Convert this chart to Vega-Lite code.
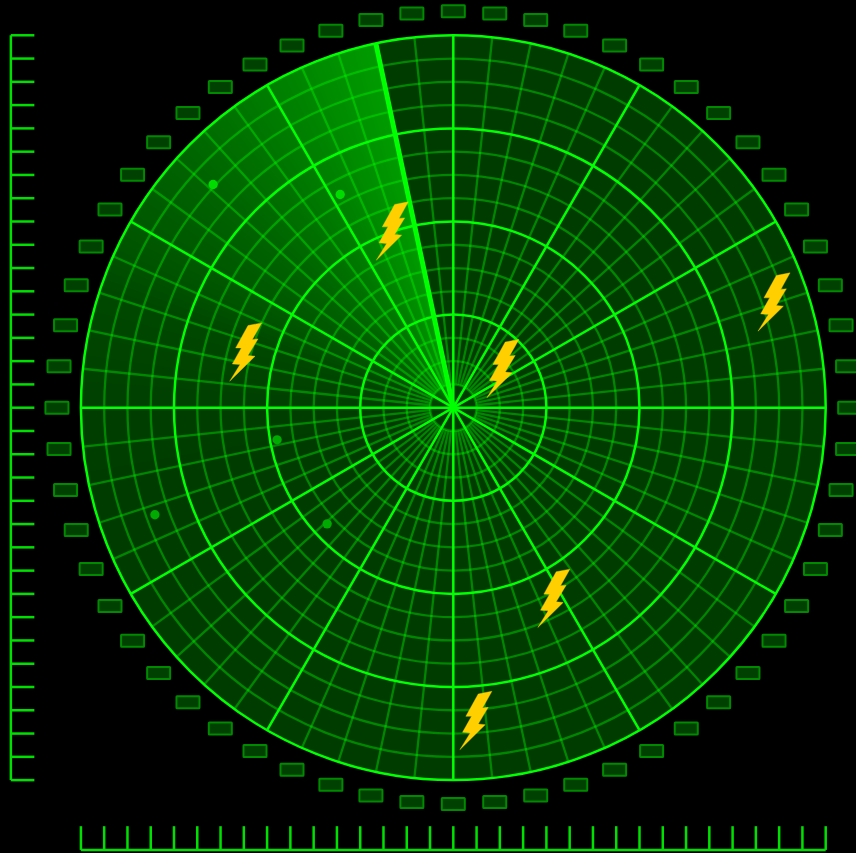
{"$schema":"https://vega.github.io/schema/vega-lite/v6.json","width":856,"height":853,"padding":0,"autosize":{"type":"fit","contains":"padding"},"background":"#000000","config":{"view":{"stroke":null}},
"layer":[
{"data":{"values":[{"r":160}]},"mark":{"type":"arc","fill":"#003c00"},"encoding":{
"x":{"datum":0,"type":"quantitative","scale":{"domain":[-194.76,173.02],"nice":false,"zero":false},"axis":null},
"y":{"datum":0,"type":"quantitative","scale":{"domain":[-191.32,175.16],"nice":false,"zero":false},"axis":null},
"theta":{"datum":0,"type":"quantitative","stack":null,"scale":{"type":"linear","domain":[0,360],"range":[0,6.283185307]}},
"theta2":{"datum":360},
"radius":{"field":"r","type":"quantitative","scale":{"type":"linear","domain":[0,160],"range":[0,372.4]}}}},
{"data":{"values":[{"a":260},{"a":270},{"a":274},{"a":278},{"a":281},{"a":285},{"a":289},{"a":290.2},{"a":291.5},{"a":292.7},{"a":293.9},{"a":295.2},{"a":296.4},{"a":297.6},{"a":298.8},{"a":300.1},{"a":301.3},{"a":302.5},{"a":303.8},{"a":305},{"a":306},{"a":307},{"a":308},{"a":309},{"a":310},{"a":311},{"a":312},{"a":313},{"a":313.7},{"a":314.4},{"a":315},{"a":315.7},{"a":316.4},{"a":317.1},{"a":317.8},{"a":318.4},{"a":319.1},{"a":319.8},{"a":320.5},{"a":321.2},{"a":321.8},{"a":322.5},{"a":323.2},{"a":323.9},{"a":324.6},{"a":325.2},{"a":325.9},{"a":326.6},{"a":327.3},{"a":328},{"a":328.6},{"a":329.3},{"a":330},{"a":330.6},{"a":331.2},{"a":331.8},{"a":332.4},{"a":333},{"a":333.6},{"a":334.2},{"a":334.8},{"a":335.4},{"a":336},{"a":336.6},{"a":337.2},{"a":337.8},{"a":338.4},{"a":339},{"a":339.6},{"a":340.2},{"a":340.8},{"a":341.4},{"a":342},{"a":342.6},{"a":343.2},{"a":343.8},{"a":344.4},{"a":345},{"a":345.6},{"a":346.2},{"a":346.8},{"a":347.4}]},
"mark":{"type":"arc","fill":"#00ff00","fillOpacity":0.01},"encoding":{
"x":{"datum":0,"type":"quantitative"},"y":{"datum":0,"type":"quantitative"},
"theta":{"field":"a","type":"quantitative","stack":null},"theta2":{"datum":348},
"radius":{"datum":160,"type":"quantitative"}}},
{"data":{"values":[{"r":10},{"r":20},{"r":30},{"r":50},{"r":60},{"r":70},{"r":90},{"r":100},{"r":110},{"r":130},{"r":140},{"r":150}]},
"mark":{"type":"arc","fill":null,"stroke":"#00ff00","strokeOpacity":0.38,"strokeWidth":2.3},"encoding":{
"x":{"datum":0,"type":"quantitative"},"y":{"datum":0,"type":"quantitative"},
"theta":{"datum":0,"type":"quantitative","stack":null},"theta2":{"datum":360},
"radius":{"field":"r","type":"quantitative"},"radius2":{"field":"r"}}},
{"data":{"values":[{"a":6},{"a":12},{"a":18},{"a":24},{"a":36},{"a":42},{"a":48},{"a":54},{"a":66},{"a":72},{"a":78},{"a":84},{"a":96},{"a":102},{"a":108},{"a":114},{"a":126},{"a":132},{"a":138},{"a":144},{"a":156},{"a":162},{"a":168},{"a":174},{"a":186},{"a":192},{"a":198},{"a":204},{"a":216},{"a":222},{"a":228},{"a":234},{"a":246},{"a":252},{"a":258},{"a":264},{"a":276},{"a":282},{"a":288},{"a":294},{"a":306},{"a":312},{"a":318},{"a":324},{"a":336},{"a":342},{"a":348},{"a":354}]},
"mark":{"type":"arc","fill":null,"stroke":"#00ff00","strokeOpacity":0.38,"strokeWidth":2.3},"encoding":{
"x":{"datum":0,"type":"quantitative"},"y":{"datum":0,"type":"quantitative"},
"theta":{"field":"a","type":"quantitative","stack":null},"theta2":{"field":"a"},
"radius":{"datum":160,"type":"quantitative"},"radius2":{"datum":10}}},
{"data":{"values":[{"r":40},{"r":80},{"r":120},{"r":160}]},
"mark":{"type":"arc","fill":null,"stroke":"#00ff00","strokeWidth":2.5},"encoding":{
"x":{"datum":0,"type":"quantitative"},"y":{"datum":0,"type":"quantitative"},
"theta":{"datum":0,"type":"quantitative","stack":null},"theta2":{"datum":360},
"radius":{"field":"r","type":"quantitative"},"radius2":{"field":"r"}}},
{"data":{"values":[{"a":0},{"a":30},{"a":60},{"a":90},{"a":120},{"a":150},{"a":180},{"a":210},{"a":240},{"a":270},{"a":300},{"a":330}]},
"mark":{"type":"arc","fill":null,"stroke":"#00ff00","strokeWidth":2.5},"encoding":{
"x":{"datum":0,"type":"quantitative"},"y":{"datum":0,"type":"quantitative"},
"theta":{"field":"a","type":"quantitative","stack":null},"theta2":{"field":"a"},
"radius":{"datum":160,"type":"quantitative"},"radius2":{"datum":0}}},
{"data":{"values":[{"a":348}]},
"mark":{"type":"arc","fill":null,"stroke":"#00ff00","strokeWidth":5},"encoding":{
"x":{"datum":0,"type":"quantitative"},"y":{"datum":0,"type":"quantitative"},
"theta":{"field":"a","type":"quantitative","stack":null},"theta2":{"field":"a"},
"radius":{"datum":160,"type":"quantitative"},"radius2":{"datum":0}}},
{"data":{"values":[{"x":0,"y":170.3},{"x":17.8,"y":169.4},{"x":35.4,"y":166.6},{"x":52.6,"y":162},{"x":69.3,"y":155.6},{"x":85.2,"y":147.5},{"x":100.1,"y":137.8},{"x":114,"y":126.6},{"x":126.6,"y":114},{"x":137.8,"y":100.1},{"x":147.5,"y":85.2},{"x":155.6,"y":69.3},{"x":162,"y":52.6},{"x":166.6,"y":35.4},{"x":169.4,"y":17.8},{"x":170.3,"y":0},{"x":169.4,"y":-17.8},{"x":166.6,"y":-35.4},{"x":162,"y":-52.6},{"x":155.6,"y":-69.3},{"x":147.5,"y":-85.2},{"x":137.8,"y":-100.1},{"x":126.6,"y":-114},{"x":114,"y":-126.6},{"x":100.1,"y":-137.8},{"x":85.2,"y":-147.5},{"x":69.3,"y":-155.6},{"x":52.6,"y":-162},{"x":35.4,"y":-166.6},{"x":17.8,"y":-169.4},{"x":0,"y":-170.3},{"x":-17.8,"y":-169.4},{"x":-35.4,"y":-166.6},{"x":-52.6,"y":-162},{"x":-69.3,"y":-155.6},{"x":-85.2,"y":-147.5},{"x":-100.1,"y":-137.8},{"x":-114,"y":-126.6},{"x":-126.6,"y":-114},{"x":-137.8,"y":-100.1},{"x":-147.5,"y":-85.2},{"x":-155.6,"y":-69.3},{"x":-162,"y":-52.6},{"x":-166.6,"y":-35.4},{"x":-169.4,"y":-17.8},{"x":-170.3,"y":0},{"x":-169.4,"y":17.8},{"x":-166.6,"y":35.4},{"x":-162,"y":52.6},{"x":-155.6,"y":69.3},{"x":-147.5,"y":85.2},{"x":-137.8,"y":100.1},{"x":-126.6,"y":114},{"x":-114,"y":126.6},{"x":-100.1,"y":137.8},{"x":-85.2,"y":147.5},{"x":-69.3,"y":155.6},{"x":-52.6,"y":162},{"x":-35.4,"y":166.6},{"x":-17.8,"y":169.4}]},
"mark":{"type":"rect","clip":true,"width":23,"height":12,"cornerRadius":0.5,"fill":"#004000","stroke":"#008a00","strokeWidth":2},"encoding":{
"x":{"field":"x","type":"quantitative"},"y":{"field":"y","type":"quantitative"}}},
{"data":{"values":[{"x":-103.2,"y":95.9,"fade":"near"},{"x":-48.6,"y":91.6,"fade":"near"},{"x":-75.7,"y":-13.8,"fade":"far"},{"x":-128.2,"y":-46,"fade":"far"},{"x":-54.2,"y":-49.9,"fade":"far"}]},
"mark":{"type":"point","filled":true,"shape":"circle","size":87,"opacity":1},"encoding":{
"x":{"field":"x","type":"quantitative"},"y":{"field":"y","type":"quantitative"},
"color":{"field":"fade","type":"nominal","legend":null,"scale":{"domain":["near","far"],"range":["#00dc00","#00aa00"]}}}},
{"data":{"values":[{"x":-26.2,"y":75.9},{"x":-89.2,"y":23.9},{"x":21.3,"y":16.8},{"x":137.8,"y":45.4},{"x":43.2,"y":-81.9},{"x":9.7,"y":-134.4}]},
"mark":{"type":"point","filled":true,"opacity":1,"fill":"#ffcf00","stroke":"#ffcf00","strokeWidth":0.4,"size":3403,"shape":"M0.08,-0.909L0.549,-1L0.229,-0.429L0.423,-0.451L0.08,0.12L0.32,0.143L-0.549,1L-0.194,0.429L-0.457,0.406L-0.149,-0.143L-0.343,-0.143Z"},"encoding":{
"x":{"field":"x","type":"quantitative"},"y":{"field":"y","type":"quantitative"}}},
{"data":{"values":[{"t":160},{"t":150},{"t":140},{"t":130},{"t":120},{"t":110},{"t":100},{"t":90},{"t":80},{"t":70},{"t":60},{"t":50},{"t":40},{"t":30},{"t":20},{"t":10},{"t":0},{"t":-10},{"t":-20},{"t":-30},{"t":-40},{"t":-50},{"t":-60},{"t":-70},{"t":-80},{"t":-90},{"t":-100},{"t":-110},{"t":-120},{"t":-130},{"t":-140},{"t":-150},{"t":-160}]},
"layer":[
{"mark":{"type":"rule","stroke":"#00e000","strokeWidth":2.5},"encoding":{"y":{"field":"t","type":"quantitative"},"x":{"datum":-190.1,"type":"quantitative"},"x2":{"datum":-180}}},
{"mark":{"type":"rule","stroke":"#00e000","strokeWidth":2.5},"encoding":{"x":{"field":"t","type":"quantitative"},"y":{"datum":-190,"type":"quantitative"},"y2":{"datum":-179.8}}},
{"mark":{"type":"rule","stroke":"#00e000","strokeWidth":2.5},"encoding":{"x":{"datum":-190.1,"type":"quantitative"},"y":{"aggregate":"min","field":"t","type":"quantitative"},"y2":{"aggregate":"max","field":"t"}}},
{"mark":{"type":"rule","stroke":"#00e000","strokeWidth":2.5},"encoding":{"y":{"datum":-190,"type":"quantitative"},"x":{"aggregate":"min","field":"t","type":"quantitative"},"x2":{"aggregate":"max","field":"t"}}}
]}
]}
